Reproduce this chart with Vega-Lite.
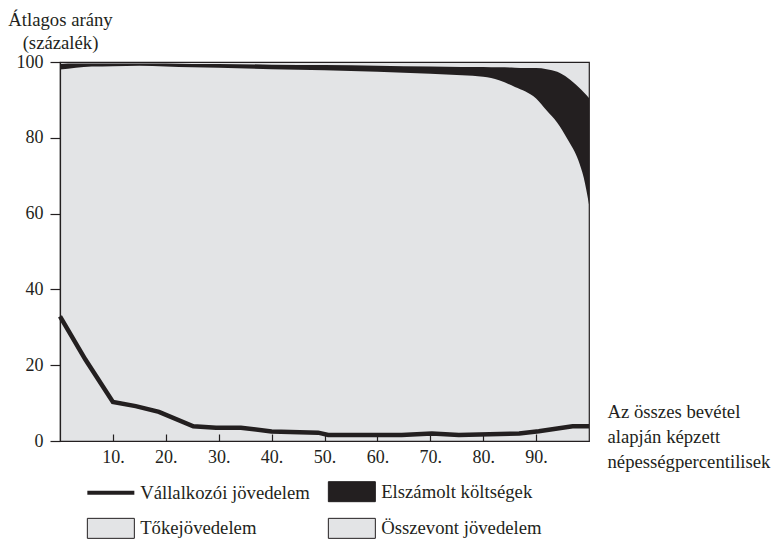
{
  "$schema": "https://vega.github.io/schema/vega-lite/v6.json",
  "autosize": {"type": "none"},
  "width": 529,
  "height": 379,
  "padding": {"left": 60, "top": 62, "right": 183, "bottom": 98},
  "config": {
    "font": "Liberation Serif",
    "view": {"fill": "#e3e4e6", "stroke": "#231f20", "strokeWidth": 1.2},
    "axis": {"labelFont": "Liberation Serif", "titleFont": "Liberation Serif", "labelColor": "#231f20", "titleColor": "#231f20", "domainColor": "#231f20", "tickColor": "#231f20", "domainWidth": 1.2, "tickWidth": 1.2, "labelFontSize": 18, "titleFontSize": 18.7, "titleFontWeight": "normal", "grid": false},
    "legend": {"labelFont": "Liberation Serif", "labelFontSize": 18.7, "labelColor": "#231f20", "symbolStrokeColor": "#231f20", "symbolStrokeWidth": 1}
  },
  "datasets": {
    "band": [
      {"p": 0, "lo": 98.0, "hi": 99.5, "series": "Elszámolt költségek"},
      {"p": 3, "lo": 98.5, "hi": 99.6, "series": "Elszámolt költségek"},
      {"p": 6, "lo": 98.8, "hi": 99.6, "series": "Elszámolt költségek"},
      {"p": 10, "lo": 98.9, "hi": 99.6, "series": "Elszámolt költségek"},
      {"p": 15, "lo": 99.0, "hi": 99.6, "series": "Elszámolt költségek"},
      {"p": 20, "lo": 98.8, "hi": 99.6, "series": "Elszámolt költségek"},
      {"p": 25, "lo": 98.6, "hi": 99.5, "series": "Elszámolt költségek"},
      {"p": 30, "lo": 98.5, "hi": 99.5, "series": "Elszámolt költségek"},
      {"p": 40, "lo": 98.1, "hi": 99.3, "series": "Elszámolt költségek"},
      {"p": 50, "lo": 97.8, "hi": 99.2, "series": "Elszámolt költségek"},
      {"p": 60, "lo": 97.4, "hi": 99.0, "series": "Elszámolt költségek"},
      {"p": 70, "lo": 96.9, "hi": 98.8, "series": "Elszámolt költségek"},
      {"p": 76, "lo": 96.5, "hi": 98.7, "series": "Elszámolt költségek"},
      {"p": 80, "lo": 96.1, "hi": 98.7, "series": "Elszámolt költségek"},
      {"p": 83, "lo": 95.2, "hi": 98.6, "series": "Elszámolt költségek"},
      {"p": 86, "lo": 93.4, "hi": 98.5, "series": "Elszámolt költségek"},
      {"p": 88, "lo": 92.2, "hi": 98.4, "series": "Elszámolt költségek"},
      {"p": 90, "lo": 90.4, "hi": 98.4, "series": "Elszámolt költségek"},
      {"p": 92, "lo": 87.2, "hi": 98.1, "series": "Elszámolt költségek"},
      {"p": 94, "lo": 84.0, "hi": 97.4, "series": "Elszámolt költségek"},
      {"p": 96, "lo": 79.5, "hi": 95.8, "series": "Elszámolt költségek"},
      {"p": 98, "lo": 74.0, "hi": 93.4, "series": "Elszámolt költségek"},
      {"p": 99, "lo": 69.5, "hi": 92.0, "series": "Elszámolt költségek"},
      {"p": 100, "lo": 62.4, "hi": 90.5, "series": "Elszámolt költségek"}
    ],
    "line": [
      {"p": 0, "v": 32.9, "series": "Vállalkozói jövedelem"},
      {"p": 4.8, "v": 21.5, "series": "Vállalkozói jövedelem"},
      {"p": 10, "v": 10.3, "series": "Vállalkozói jövedelem"},
      {"p": 14.3, "v": 9.2, "series": "Vállalkozói jövedelem"},
      {"p": 18.7, "v": 7.7, "series": "Vállalkozói jövedelem"},
      {"p": 25.2, "v": 3.9, "series": "Vállalkozói jövedelem"},
      {"p": 29.5, "v": 3.5, "series": "Vállalkozói jövedelem"},
      {"p": 34.2, "v": 3.5, "series": "Vállalkozói jövedelem"},
      {"p": 40, "v": 2.5, "series": "Vállalkozói jövedelem"},
      {"p": 48.8, "v": 2.2, "series": "Vállalkozói jövedelem"},
      {"p": 50.7, "v": 1.6, "series": "Vállalkozói jövedelem"},
      {"p": 64.6, "v": 1.6, "series": "Vállalkozói jövedelem"},
      {"p": 70.3, "v": 2.0, "series": "Vállalkozói jövedelem"},
      {"p": 75.4, "v": 1.6, "series": "Vállalkozói jövedelem"},
      {"p": 86.8, "v": 2.0, "series": "Vállalkozói jövedelem"},
      {"p": 90.5, "v": 2.6, "series": "Vállalkozói jövedelem"},
      {"p": 96.9, "v": 3.9, "series": "Vállalkozói jövedelem"},
      {"p": 100, "v": 3.9, "series": "Vállalkozói jövedelem"}
    ]
  },
  "layer": [
    {
      "data": {"name": "band"},
      "mark": {"type": "area", "interpolate": "monotone"},
      "encoding": {
        "x": {"field": "p", "type": "quantitative", "scale": {"domain": [0, 100], "nice": false},
          "axis": {"values": [10, 20, 30, 40, 50, 60, 70, 80, 90], "labelExpr": "datum.value + '.'", "tickSize": -7, "labelPadding": 14,
            "title": ["Az összes bevétel", "alapján képzett", "népességpercentilisek"], "titleX": 547, "titleY": -24, "titleAlign": "left", "titleAnchor": null, "titleBaseline": "alphabetic", "titleLineHeight": 25, "titleAngle": 0}},
        "y": {"field": "lo", "type": "quantitative", "scale": {"domain": [0, 100], "nice": false},
          "axis": {"values": [0, 20, 40, 60, 80, 100], "tickSize": 10, "labelPadding": 7,
            "title": ["Átlagos arány", "(százalék)"], "titleAngle": 0, "titleX": 0, "titleY": -37, "titleAlign": "center", "titleBaseline": "alphabetic", "titleLineHeight": 23}},
        "y2": {"field": "hi"},
        "color": {"field": "series", "type": "nominal",
          "scale": {"domain": ["Vállalkozói jövedelem", "Elszámolt költségek", "Tőkejövedelem", "Összevont jövedelem"], "range": ["#231f20", "#231f20", "#e3e4e6", "#e3e4e6"]},
          "legend": {"orient": "none", "legendX": 28, "legendY": 420, "direction": "horizontal", "columns": 2, "title": null, "padding": 0,
            "symbolSize": 400, "symbolOffset": 13.5, "labelOffset": 20, "columnPadding": 16, "rowPadding": 12, "labelLimit": 300, "labelBaseline": "middle",
            "symbolStrokeColor": "#231f20", "symbolStrokeWidth": 1,
            "encode": {"symbols": {"update": {
              "shape": {"signal": "datum.value === 'Vállalkozói jövedelem' ? 'M-2.35,0H2.35' : 'M-2.35,-1H2.35V1H-2.35Z'"},
              "fill": {"signal": "datum.value === 'Vállalkozói jövedelem' ? 'transparent' : (datum.value === 'Elszámolt költségek' ? '#231f20' : '#e3e4e6')"},
              "stroke": {"signal": "'#231f20'"},
              "strokeWidth": {"signal": "datum.value === 'Vállalkozói jövedelem' ? 4 : 1"},
              "opacity": {"value": 1}, "fillOpacity": {"value": 1}, "strokeOpacity": {"value": 1}
            }}}}}
      }
    },
    {
      "data": {"name": "line"},
      "mark": {"type": "line", "strokeWidth": 4.5, "interpolate": "linear", "color": "#231f20"},
      "encoding": {
        "x": {"field": "p", "type": "quantitative"},
        "y": {"field": "v", "type": "quantitative"}
      }
    }
  ]
}
